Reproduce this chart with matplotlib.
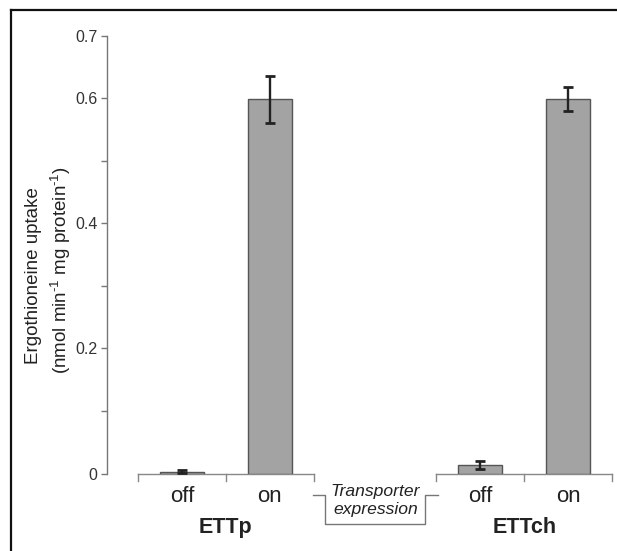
import matplotlib
matplotlib.use("Agg")
import matplotlib.pyplot as plt
from matplotlib.lines import Line2D
import numpy as np

plt.rcParams['font.family'] = ['Liberation Sans', 'DejaVu Sans']
plt.rcParams['mathtext.fontset'] = 'custom'
plt.rcParams['mathtext.rm'] = 'Liberation Sans'
plt.rcParams['mathtext.it'] = 'Liberation Sans:italic'

# ---- data ----
groups = ["ETTp", "ETTch"]
conditions = ["off", "on"]
values = [0.003, 0.598, 0.0136, 0.598]
errors = [0.002, 0.0377, 0.0064, 0.019]
yticks_major = [0, 0.2, 0.4, 0.6, 0.7]
ytick_labels = ["0", "0.2", "0.4", "0.6", "0.7"]
yticks_minor = [0.1, 0.3, 0.5]

# layout positions
group_offsets = [0.0, 3.4]
xpos = [g + i for g in group_offsets for i in range(len(conditions))]
bar_w = 0.5

fig = plt.figure(figsize=(6.17, 5.51), dpi=100)
ax = fig.add_axes([107/617, 77.5/551, (613-107)/617, (473.5-35.5)/551])

ax.bar(xpos, values, width=bar_w, color='#a3a3a3', edgecolor='#555555',
       linewidth=1.0, zorder=2)
ax.errorbar(xpos, values, yerr=errors, fmt='none', ecolor='#222222',
            elinewidth=1.7, capsize=3.6, capthick=2.0, zorder=3)

ax.set_xlim(-0.852, 4.91)
ax.set_ylim(0, 0.7)

for s in ['top', 'right', 'bottom']:
    ax.spines[s].set_visible(False)
ax.spines['left'].set_color('#777777')
ax.spines['left'].set_linewidth(1.0)
ax.spines['left'].set_bounds(0, 0.7)

ax.set_yticks(yticks_major)
ax.set_yticklabels(ytick_labels)
ax.set_yticks(yticks_minor, minor=True)
ax.tick_params(axis='y', which='both', direction='out', length=4,
               width=1.0, color='#777777', labelsize=11.5, labelcolor='#333333', pad=3)
ax.set_xticks([])

# broken x axis segments
axis_y = -0.0015
tick_len = 0.011
gray = '#888888'
for gi, g in enumerate(group_offsets):
    x0, x1 = g - 0.5, g + 1.5
    ax.plot([x0, x1], [axis_y, axis_y], color=gray, lw=1.0, clip_on=False, zorder=1)
    for xt in [x0, g + 0.5, x1]:
        ax.plot([xt, xt], [axis_y, axis_y - tick_len], color=gray, lw=1.0, clip_on=False)
    for ci, c in enumerate(conditions):
        ax.text(g + ci, -0.037, c, ha='center', va='center', fontsize=16,
                color='#222222', clip_on=False)
    ax.text(g + 0.5, -0.087, groups[gi], ha='center', va='center', fontsize=15.5,
            fontweight='bold', color='#222222', clip_on=False)

# bracket "Transporter expression"
by_top, by_bot = -0.034, -0.081
bx = [1.489, 1.636, 1.636, 2.773, 2.773, 2.92]
bys = [by_top, by_top, by_bot, by_bot, by_top, by_top]
ax.plot(bx, bys, color='#777777', lw=1.0, clip_on=False)
ax.text(2.205, -0.0295, "Transporter", ha='center', va='center', fontsize=12.6,
        style='italic', color='#222222', clip_on=False)
ax.text(2.205, -0.0575, "expression", ha='center', va='center', fontsize=12.6,
        style='italic', color='#222222', clip_on=False)

# y label (two lines)
fig.text(34/617, 1 - 276/551, "Ergothioneine uptake", rotation=90,
         ha='center', va='center', fontsize=13.5, color='#222222')
fig.text(61/617, 1 - 270/551, r"(nmol min$^{\text{-1}}$ mg protein$^{\text{-1}}$)", rotation=90,
         ha='center', va='center', fontsize=13.5, color='#222222')

# outer frame (cropped box)
fig.add_artist(Line2D([11/617, 11/617], [-0.01, 1 - 10/551], transform=fig.transFigure,
                      color='#111111', lw=1.6))
fig.add_artist(Line2D([11/617, 1.01], [1 - 10/551, 1 - 10/551], transform=fig.transFigure,
                      color='#111111', lw=1.6))

fig.savefig("out.png", dpi=100)
